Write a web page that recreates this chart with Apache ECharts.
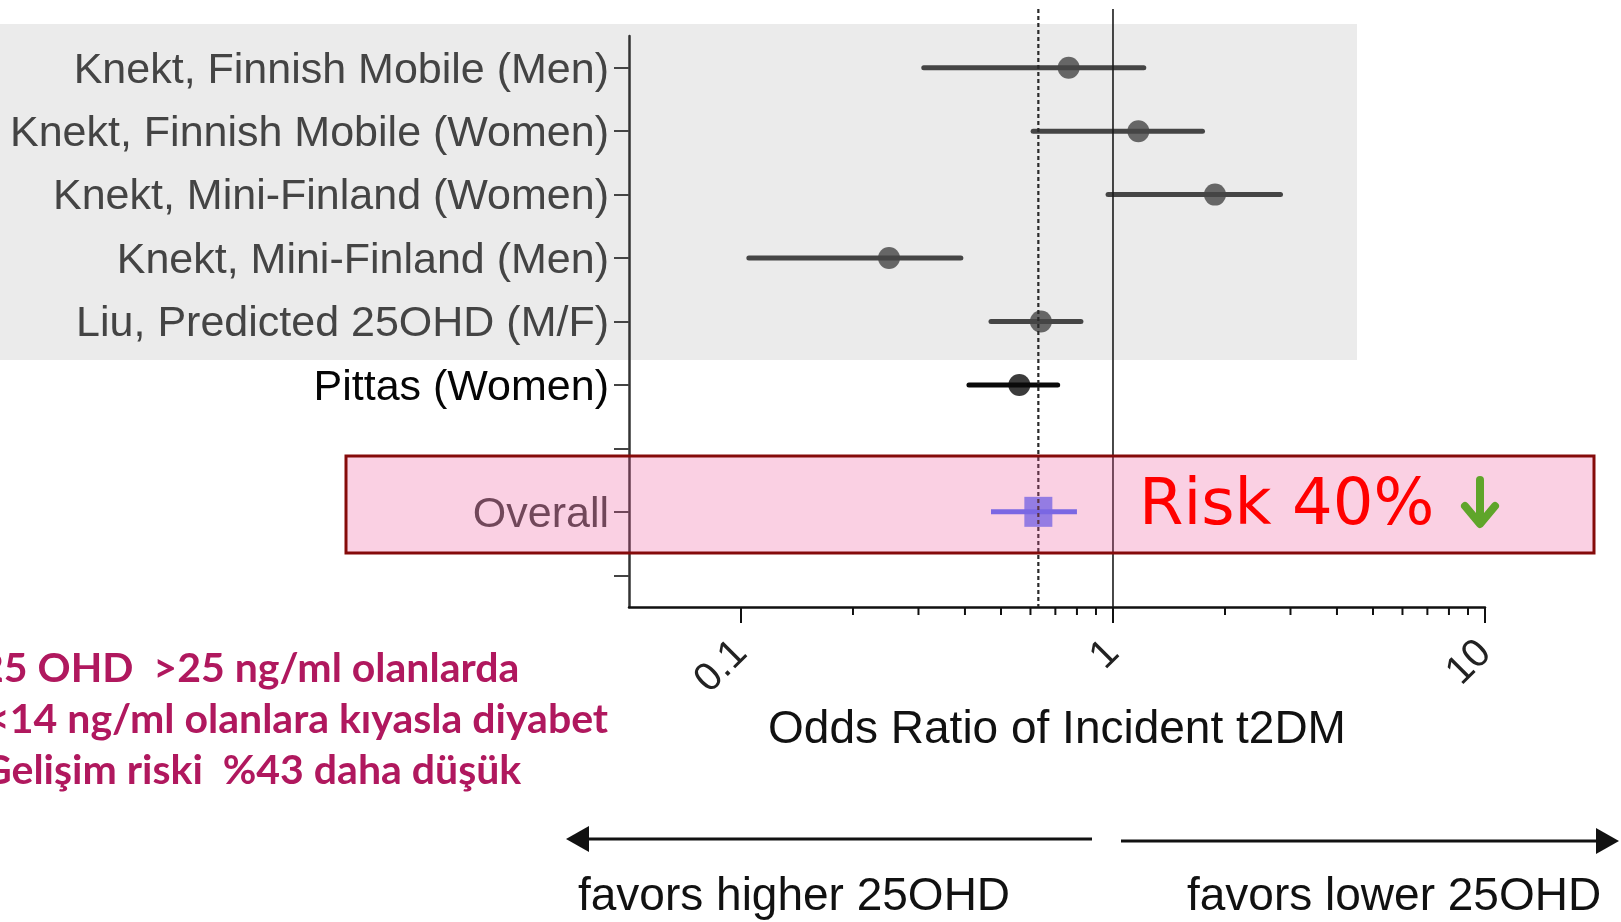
<!DOCTYPE html>
<html><head><meta charset="utf-8">
<script src="https://cdn.jsdelivr.net/npm/echarts@6/dist/echarts.min.js"></script>
<style>html,body{margin:0;padding:0;background:#fff}#c{width:1621px;height:922px}</style>
</head><body><div id="c"></div>
<script>
// ---- data ----
const categories = [
  'Knekt, Finnish Mobile (Men)',
  'Knekt, Finnish Mobile (Women)',
  'Knekt, Mini-Finland (Women)',
  'Knekt, Mini-Finland (Men)',
  'Liu, Predicted 25OHD (M/F)',
  'Pittas (Women)',
  '',
  'Overall',
  ''
];
const oddsRatio = [0.76, 1.17, 1.88, 0.25, 0.64, 0.56, null, 0.63, null];
const ciLower   = [0.31, 0.61, 0.97, 0.105, 0.47, 0.41, null, 0.47, null];
const ciUpper   = [1.21, 1.74, 2.82, 0.39, 0.82, 0.71, null, 0.80, null];
const majorTicks = [0.1, 1, 10];
const minorTicks = [0.2, 0.3, 0.4, 0.5, 0.6, 0.7, 0.8, 0.9, 2, 3, 4, 5, 6, 7, 8, 9];
const axisMin = 0.05, axisMax = 10;
const nullOR = 1;
const pooledOR = 0.63;
const xAxisTitle = 'Odds Ratio of Incident t2DM';
const riskText = 'Risk 40%';
const noteLines = ['25 OHD  >25 ng/ml olanlarda', '<14 ng/ml olanlara kıyasla diyabet', 'Gelişim riski  %43 daha düşük'];
const favorsLeft = 'favors higher 25OHD';
const favorsRight = 'favors lower 25OHD';

// ---- styling helpers ----
const GRID = {left: 629, top: 36, width: 856, height: 571};
const PITTAS = 5, OVERALL = 7;
const grayCol = '#454545', blackCol = '#0a0a0a', overallCol = 'rgb(80,112,255)';
function colorFor(i) { return i === PITTAS ? blackCol : (i === OVERALL ? overallCol : grayCol); }

const ciData = [];
const pointData = [];
categories.forEach((c, i) => {
  if (oddsRatio[i] == null) return;
  ciData.push([ciLower[i], ciUpper[i], i]);
  pointData.push({
    value: [oddsRatio[i], i],
    symbol: i === OVERALL ? 'rect' : 'circle',
    symbolSize: i === OVERALL ? [28, 30] : 22,
    itemStyle: {color: colorFor(i)}
  });
});

const chart = echarts.init(document.getElementById('c'), null, {renderer: 'canvas'});
chart.setOption({
  animation: false,
  backgroundColor: '#fff',
  grid: {left: GRID.left, top: GRID.top, width: GRID.width, height: GRID.height, containLabel: false},
  xAxis: {
    type: 'log', logBase: 10, min: axisMin, max: axisMax,
    axisLine: {show: true, lineStyle: {color: '#111', width: 2.5}},
    axisTick: {show: false},
    splitLine: {show: false},
    axisLabel: {
      rotate: 45, margin: 40, fontSize: 40, color: '#222', fontFamily: 'Liberation Sans',
      formatter: v => { const l = Math.log10(v); return Math.abs(l - Math.round(l)) < 1e-6 ? String(+(+v).toPrecision(2)) : ''; }
    },
    name: xAxisTitle, nameLocation: 'middle', nameGap: 93,
    nameTextStyle: {fontSize: 46, color: '#111', fontFamily: 'Liberation Sans'}
  },
  yAxis: {
    type: 'category', inverse: true,
    data: categories.map((c, i) => ({value: c, textStyle: {color: i === PITTAS ? '#050505' : '#444'}})),
    axisLine: {show: true, lineStyle: {color: '#333', width: 2.5}},
    axisTick: {show: true, alignWithLabel: true, interval: 0, length: 15, lineStyle: {color: '#444', width: 2}},
    axisLabel: {
      interval: 0, margin: 20, fontSize: 43, fontFamily: 'Liberation Sans',
      formatter: v => v ? '{t|' + v + '}' : '',
      rich: {t: {fontSize: 43, fontFamily: 'Liberation Sans', padding: [6, 0, 0, 0]}}
    },
    splitLine: {show: false}
  },
  series: [
    {
      type: 'custom', z: 2,
      data: ciData,
      encode: {x: [0, 1], y: 2},
      renderItem: function (params, api) {
        const lo = api.value(0), hi = api.value(1), c = api.value(2);
        const p1 = api.coord([lo, c]), p2 = api.coord([hi, c]);
        return {
          type: 'line',
          shape: {x1: p1[0], y1: p1[1], x2: p2[0], y2: p2[1]},
          style: {stroke: colorFor(c), lineWidth: 5, lineCap: c === OVERALL ? 'butt' : 'round'}
        };
      }
    },
    {
      type: 'scatter', z: 3,
      data: pointData
    }
  ]
});

// ---- annotations computed through the axis scale ----
const px = v => chart.convertToPixel({xAxisIndex: 0}, v);
const axisY = GRID.top + GRID.height;
const els = [];
els.push({type: 'rect', z: -10, shape: {x: 0, y: 24, width: 1357, height: 336}, style: {fill: '#ebebeb'}});
majorTicks.forEach(v => { const x = px(v); els.push({type: 'line', z: 5, shape: {x1: x, y1: axisY, x2: x, y2: axisY + 16}, style: {stroke: '#111', lineWidth: 2}}); });
minorTicks.forEach(v => { const x = px(v); els.push({type: 'line', z: 5, shape: {x1: x, y1: axisY, x2: x, y2: axisY + 8}, style: {stroke: '#111', lineWidth: 2}}); });
{ const x = px(nullOR); els.push({type: 'line', z: 10, shape: {x1: x, y1: 9, x2: x, y2: axisY}, style: {stroke: '#1a1a1a', lineWidth: 1.6}}); }
{ const x = px(pooledOR); els.push({type: 'line', z: 10, shape: {x1: x, y1: 9, x2: x, y2: axisY}, style: {stroke: '#2a2a2a', lineWidth: 2.2, lineDash: [4, 3]}}); }
// pink highlight box
els.push({type: 'rect', z: 50, shape: {x: 346, y: 456, width: 1248, height: 97}, style: {fill: 'rgba(236,80,150,0.27)', stroke: '#850a0a', lineWidth: 3}});
els.push({type: 'text', z: 60, style: {text: riskText, x: 1139, y: 507, fill: '#ff0000', font: '64px "DejaVu Sans"', textAlign: 'left', textVerticalAlign: 'middle'}});
els.push({type: 'polyline', z: 60, shape: {points: [[1480, 480], [1480, 522]]}, style: {stroke: '#5fa52a', lineWidth: 8, lineCap: 'round', fill: null}});
els.push({type: 'polyline', z: 60, shape: {points: [[1465, 506], [1480, 524], [1495, 506]]}, style: {stroke: '#5fa52a', lineWidth: 8, lineCap: 'round', lineJoin: 'round', fill: null}});
// Turkish note
const noteX = [-20, -14, -18];
const noteY = [669, 720, 771];
noteLines.forEach((t, i) => els.push({type: 'text', z: 60, style: {text: t, x: noteX[i], y: noteY[i], fill: '#b0185e', font: 'bold 41px Lato', textAlign: 'left', textVerticalAlign: 'middle'}}));
// favors arrows
els.push({type: 'line', z: 5, shape: {x1: 580, y1: 839, x2: 1092, y2: 839}, style: {stroke: '#111', lineWidth: 3}});
els.push({type: 'polygon', z: 5, shape: {points: [[566, 839], [589, 826], [589, 852]]}, style: {fill: '#111'}});
els.push({type: 'line', z: 5, shape: {x1: 1121, y1: 841, x2: 1605, y2: 841}, style: {stroke: '#111', lineWidth: 3}});
els.push({type: 'polygon', z: 5, shape: {points: [[1619, 841], [1596, 828], [1596, 854]]}, style: {fill: '#111'}});
els.push({type: 'text', z: 5, style: {text: favorsLeft, x: 578, y: 897, fill: '#111', font: '46px "Liberation Sans"', textAlign: 'left', textVerticalAlign: 'middle'}});
els.push({type: 'text', z: 5, style: {text: favorsRight, x: 1187, y: 897, fill: '#111', font: '46px "Liberation Sans"', textAlign: 'left', textVerticalAlign: 'middle'}});
chart.setOption({graphic: {elements: els}});
</script>
</body></html>
